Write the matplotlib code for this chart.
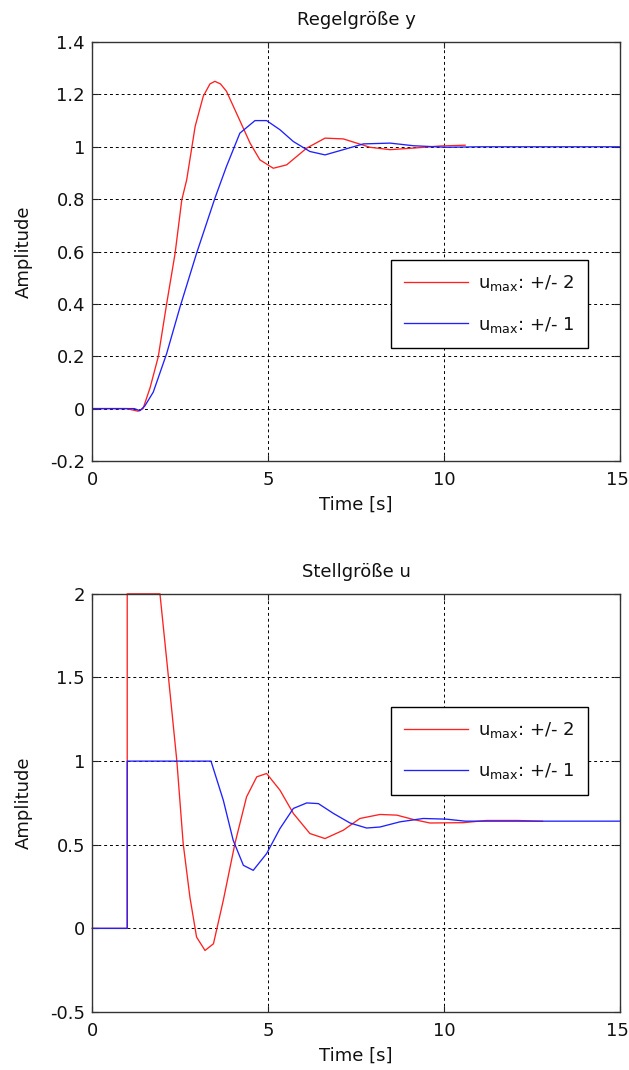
import matplotlib
matplotlib.use("Agg")
import matplotlib.pyplot as plt
from matplotlib.transforms import ScaledTranslation

plt.rcParams['font.family'] = ['DejaVu Sans']
plt.rcParams['mathtext.default'] = 'regular'

# ---- data: Regelgröße y ----
t_y_red = [0, 0.98, 1.31, 1.45, 1.65, 1.88, 2.12, 2.36, 2.55, 2.69, 2.93, 3.16, 3.35, 3.49,
           3.65, 3.82, 4.2, 4.49, 4.77, 5.15, 5.53, 6.1, 6.62, 7.14, 7.52, 7.9, 8.47, 9.13, 9.89, 10.6]
y_red = [0, 0, -0.01, 0.0, 0.08, 0.197, 0.40, 0.593, 0.797, 0.874, 1.078, 1.193, 1.24, 1.25,
         1.24, 1.212, 1.10, 1.014, 0.95, 0.918, 0.931, 0.995, 1.033, 1.03, 1.014, 0.998, 0.989, 0.995, 1.003, 1.006]

t_y_blue = [0, 1.2, 1.36, 1.5, 1.74, 2.12, 2.5, 2.97, 3.49, 3.82, 4.2, 4.63, 4.96, 5.34, 5.72,
            6.19, 6.62, 7.14, 7.71, 8.47, 9.13, 10.07, 11, 15]
y_blue = [0, 0, -0.008, 0.01, 0.063, 0.21, 0.388, 0.593, 0.803, 0.925, 1.052, 1.1, 1.1, 1.065, 1.02,
          0.982, 0.969, 0.989, 1.011, 1.014, 1.004, 0.998, 1.0, 1.0]

# ---- data: Stellgröße u ----
t_u_red = [0, 1.0, 1.0, 1.93, 2.17, 2.41, 2.59, 2.78, 2.97, 3.21, 3.45, 3.73, 4.06, 4.39, 4.68,
           4.96, 5.34, 5.72, 6.19, 6.62, 7.14, 7.61, 8.18, 8.66, 9.13, 9.6, 10.55, 11.2, 12.1, 12.8]
u_red = [0, 0, 2, 2, 1.505, 1.0, 0.507, 0.188, -0.052, -0.132, -0.092, 0.168, 0.507, 0.786, 0.906,
         0.926, 0.826, 0.687, 0.567, 0.537, 0.587, 0.657, 0.681, 0.677, 0.651, 0.63, 0.632, 0.645, 0.645, 0.64]

t_u_blue = [0, 1, 1, 3.38, 3.73, 4.01, 4.3, 4.58, 4.96, 5.34, 5.72, 6.1, 6.43, 6.86, 7.33, 7.8,
            8.18, 8.75, 9.41, 10.07, 10.6, 15]
u_blue = [0, 0, 1, 1, 0.766, 0.527, 0.377, 0.347, 0.447, 0.597, 0.717, 0.75, 0.746, 0.687, 0.63, 0.60,
          0.606, 0.637, 0.657, 0.653, 0.641, 0.641]

labels = ['$u_{max}$: +/- 2', '$u_{max}$: +/- 1']
titles = ['Regelgröße y', 'Stellgröße u']
x_ticks = [0, 5, 10, 15]
y_ticks_top = [-0.2, 0, 0.2, 0.4, 0.6, 0.8, 1.0, 1.2, 1.4]
y_ticklabels_top = ['-0.2', '0', '0.2', '0.4', '0.6', '0.8', '1', '1.2', '1.4']
y_ticks_bot = [-0.5, 0, 0.5, 1, 1.5, 2]
y_ticklabels_bot = ['-0.5', '0', '0.5', '1', '1.5', '2']

fig = plt.figure(figsize=(6.29, 10.70), dpi=100)
ax1 = fig.add_axes([0.1463, 0.5692, 0.8394, 0.3915])
ax2 = fig.add_axes([0.1463, 0.0542, 0.8394, 0.3908])

fs = 13

def style(ax, yt, ytl, ylim, title):
    ax.set_xlim(0, 15)
    ax.set_ylim(*ylim)
    ax.set_xticks(x_ticks)
    ax.set_xticklabels([str(v) for v in x_ticks], fontsize=fs)
    ax.set_yticks(yt)
    ax.set_yticklabels(ytl, fontsize=fs)
    ax.tick_params(direction='in', length=4, top=True, right=True, width=0.8, colors='#222222',
                   labelcolor='#111111')
    ax.tick_params(axis='x', pad=7)
    ax.tick_params(axis='y', pad=5)
    ax.grid(True, color='black', linestyle=(0, (3, 3)), linewidth=0.7)
    for s in ax.spines.values():
        s.set_color('#333333')
        s.set_linewidth(1.0)
    ax.set_title(title, fontsize=fs, pad=12, color='#111111')
    ax.set_xlabel('Time [s]', fontsize=fs, color='#111111')
    ax.set_ylabel('Amplitude', fontsize=fs, color='#111111')
    ax.xaxis.set_label_coords(0.5, -0.084)
    ax.yaxis.set_label_coords(-0.112, 0.5)
    # keep the last x tick label inside the figure edge
    lab = ax.get_xticklabels()[-1]
    lab.set_transform(lab.get_transform() + ScaledTranslation(-3 / 100, 0, fig.dpi_scale_trans))

def add_legend(ax, anchor):
    leg = ax.legend(loc='upper left', bbox_to_anchor=anchor, fontsize=fs, fancybox=False,
                    framealpha=1, edgecolor='black', borderaxespad=0, handlelength=3.55,
                    labelspacing=1.17, borderpad=0.75, handletextpad=0.5)
    leg.get_frame().set_linewidth(1.0)
    for txt in leg.get_texts():
        txt.set_color('#111111')
    return leg

style(ax1, y_ticks_top, y_ticklabels_top, (-0.2, 1.4), titles[0])
ax1.plot(t_y_red, y_red, color='#ff2020', lw=0.95, label=labels[0])
ax1.plot(t_y_blue, y_blue, color='#2020ff', lw=0.95, label=labels[1])
add_legend(ax1, (0.566, 0.48))

style(ax2, y_ticks_bot, y_ticklabels_bot, (-0.5, 2), titles[1])
ax2.plot(t_u_red, u_red, color='#ff2020', lw=0.95, label=labels[0], clip_on=False)
ax2.plot(t_u_blue, u_blue, color='#2020ff', lw=0.95, label=labels[1])
add_legend(ax2, (0.566, 0.73))

fig.savefig('out.png', dpi=100)
